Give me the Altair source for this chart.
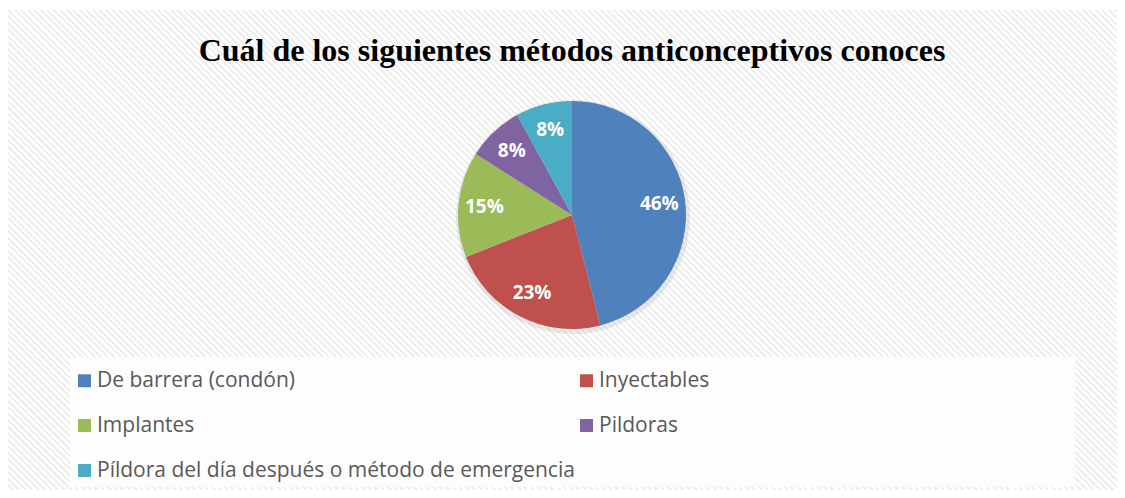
import altair as alt
import pandas as pd

TITLE = "Cuál de los siguientes métodos anticonceptivos conoces"
CATEGORIES = [
    "De barrera (condón)",
    "Inyectables",
    "Implantes",
    "Pildoras",
    "Píldora del día después o método de emergencia",
]
PERCENTS = [46, 23, 15, 8, 8]
COLORS = ["#4F81BD", "#C0504D", "#9BBB59", "#8064A2", "#4BACC6"]
# legend reading order (two columns, filled column by column)
LEGEND_ORDER = [0, 2, 4, 1, 3]

W, H = 1109, 480
CX, CY, R = 564, 205, 114

df = pd.DataFrame({
    "cat": CATEGORIES,
    "pct": PERCENTS,
    "order": list(range(len(CATEGORIES))),
    "label": [f"{p}%" for p in PERCENTS],
})

# diagonal hatch background (style only)
a, b = 1.0 / H, 1.0 / W
k = (a + b) / (a * a + b * b)
x2g, y2g = k * a, 1 - k * b
n_per = 244
stops = []
for i in range(n_per):
    s0 = i / n_per
    s1 = (i + 0.5) / n_per
    s2 = (i + 1) / n_per
    stops.append({"offset": s0, "color": "#ffffff"})
    stops.append({"offset": s1 - 0.0001, "color": "#ffffff"})
    stops.append({"offset": s1, "color": "#efefef"})
    stops.append({"offset": s2 - 0.0001, "color": "#efefef"})
hatch = alt.Gradient(gradient="linear", x1=0, y1=1, x2=x2g, y2=y2g, stops=stops)

one = alt.Data(values=[{"a": 1}])

bg = alt.Chart(one).mark_rect(fill=hatch).encode(
    x=alt.value(0), x2=alt.value(W), y=alt.value(0), y2=alt.value(H)
)
legend_bg = alt.Chart(one).mark_rect(fill="#fdfdfd").encode(
    x=alt.value(62), x2=alt.value(1067), y=alt.value(347), y2=alt.value(477)
)

title = alt.Chart(alt.Data(values=[{"t": TITLE}])).mark_text(
    font="Liberation Serif", fontSize=32, fontWeight="bold", color="#000000",
    align="center", baseline="alphabetic"
).encode(x=alt.value(CX), y=alt.value(51), text="t:N")

shadow = alt.Chart(one).mark_arc(outerRadius=R + 3, color="#b0b0b0", opacity=0.25).encode(
    theta=alt.value(6.2832), x=alt.value(CX + 1), y=alt.value(CY + 2)
)

base = alt.Chart(df).encode(
    theta=alt.Theta("pct:Q", stack=True),
    order=alt.Order("order:Q"),
    x=alt.value(CX), y=alt.value(CY),
)

pie = base.mark_arc(outerRadius=R).encode(
    color=alt.Color(
        "cat:N",
        scale=alt.Scale(
            domain=[CATEGORIES[i] for i in LEGEND_ORDER],
            range=[COLORS[i] for i in LEGEND_ORDER],
        ),
        legend=alt.Legend(
            title=None, orient="none", legendX=66, legendY=360,
            columns=2, columnPadding=1, rowPadding=23,
            symbolType="square", symbolSize=169, symbolStrokeWidth=0,
            labelFont="Open Sans", labelFontSize=21, labelColor="#595959",
            labelOffset=2, labelLimit=700, padding=0,
        ),
    )
)

labels = base.mark_text(
    radius=88, font="Open Sans", fontSize=19, fontWeight="bold", color="white"
).encode(text="label:N")

chart = alt.layer(bg, legend_bg, title, shadow, pie, labels).properties(
    width=W, height=H,
    autosize=alt.AutoSizeParams(type="none"),
    padding={"left": 0, "top": 2, "right": 0, "bottom": 0},
).configure_view(stroke="#d9d9d9", strokeWidth=1).configure(background="white")

chart.save("out.html", embed_options={"renderer": "svg", "actions": False})
